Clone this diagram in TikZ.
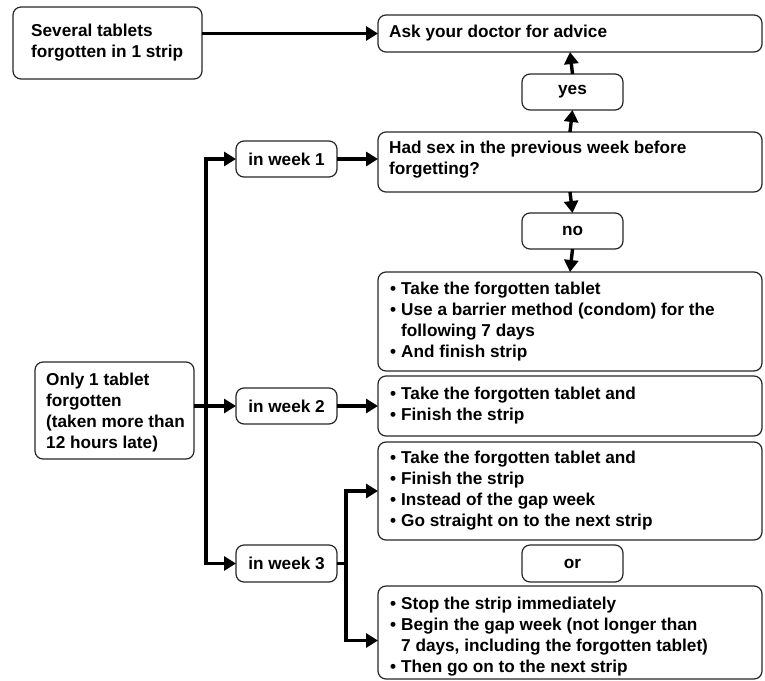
\documentclass[tikz,border=0pt]{standalone}
\usepackage{fontspec}
\setmainfont{Liberation Sans}
\usetikzlibrary{arrows.meta}
\newcommand\fs{\bfseries\fontsize{17.2}{21}\selectfont}
\newcommand\bul{\makebox[11pt][l]{•}}
\newcommand\ind{\hspace*{11pt}}
\begin{document}
\begin{tikzpicture}[x=1pt,y=-1pt,
  box/.style={draw=black!85, line width=1.2pt, rounded corners=8pt, inner sep=0pt, outer sep=0pt, anchor=north west, font=\fs},
  txt/.style={inner sep=0pt, align=left, anchor=west, font=\fs},
  arr/.style={line width=3.4pt, -{Triangle[length=12pt,width=14pt]}}]
\useasboundingbox (0,0) rectangle (765,680);
% boxes
\node[box, minimum width=189pt, minimum height=72pt] (sev) at (13,7) {};
\node[txt] (sevt) at ([xshift=18pt]sev.west) {Several tablets\\forgotten in 1 strip};
\node[box, minimum width=384pt, minimum height=37pt] (ask) at (378,15) {};
\node[txt] (askt) at ([xshift=11pt]ask.west) {Ask your doctor for advice};
\node[box, minimum width=101pt, minimum height=36pt] (yes) at (522,74) {yes};
\node[box, minimum width=384pt, minimum height=60pt] (had) at (378,132) {};
\node[txt] (hadt) at ([xshift=11pt,yshift=2pt]had.west) {Had sex in the previous week before\\forgetting?};
\node[box, minimum width=101pt, minimum height=36pt] (w1) at (236,141) {in week 1};
\node[box, minimum width=101pt, minimum height=36pt] (no) at (522,213) {no};
\node[box, minimum width=384pt, minimum height=99pt] (b1) at (378,272) {};
\node[txt] (b1t) at ([xshift=12pt]b1.west) {\bul Take the forgotten tablet\\\bul Use a barrier method (condom) for the\\\ind following 7 days\\\bul And finish strip};
\node[box, minimum width=159pt, minimum height=97pt] (only) at (35,362) {};
\node[txt] (onlyt) at ([xshift=11pt,yshift=-2pt]only.west) {Only 1 tablet\\forgotten\\(taken more than\\12 hours late)};
\node[box, minimum width=384pt, minimum height=60pt] (b2) at (378,376) {};
\node[txt] (b2t) at ([xshift=12pt]b2.west) {\bul Take the forgotten tablet and\\\bul Finish the strip};
\node[box, minimum width=101pt, minimum height=36pt] (w2) at (236,388) {in week 2};
\node[box, minimum width=384pt, minimum height=98pt] (b3) at (378,442) {};
\node[txt] (b3t) at ([xshift=12pt]b3.west) {\bul Take the forgotten tablet and\\\bul Finish the strip\\\bul Instead of the gap week\\\bul Go straight on to the next strip};
\node[box, minimum width=101pt, minimum height=37pt] (or) at (522,545) {or};
\node[box, minimum width=101pt, minimum height=37pt] (w3) at (236,545) {in week 3};
\node[box, minimum width=384pt, minimum height=93pt] (b4) at (378,586) {};
\node[txt] (b4t) at ([xshift=12pt,yshift=-4pt]b4.west) {\bul Stop the strip immediately\\\bul Begin the gap week (not longer than\\\ind 7 days, including the forgotten tablet)\\\bul Then go on to the next strip};
% connectors
\coordinate (tr) at (206,0);
\draw[arr] (sev.east |- ask.west) -- (ask.west);
\draw[arr] (yes.north) -- (ask.south);
\draw[arr] (had.north) -- (yes.south);
\draw[arr] (had.south) -- (no.north);
\draw[arr] (no.south) -- (b1.north);
\draw[arr] (w1.east) -- (w1.east -| had.west);
\draw[arr] (w2.east) -- (w2.east -| b2.west);
\draw[arr] (tr |- w2.west) |- (w1.west);
\draw[arr] (tr |- w2.west) |- (w3.west);
\draw[arr] (only.east |- w2.west) -- (w2.west);
\draw[arr] (w3.east) -| ([xshift=-32pt]b3.west) -- (b3.west);
\draw[arr] (w3.east) -| ([xshift=-32pt,yshift=-8pt]b4.west) -- ([yshift=-8pt]b4.west);
\end{tikzpicture}
\end{document}
